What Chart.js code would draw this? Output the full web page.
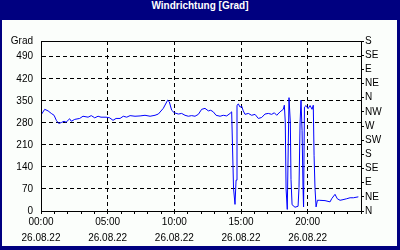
<!DOCTYPE html>
<html>
<head>
<meta charset="utf-8">
<script src="https://cdn.jsdelivr.net/npm/chart.js@4"></script>
<style>
  body { margin: 0; }
  #frame { position: relative; width: 400px; height: 250px; background: #000080; }
  #title { position: absolute; left: 0; top: 0; width: 400px; height: 20px; line-height: 19px;
           text-align: center; color: #fff; font: bold 10px "Liberation Sans", sans-serif; }
  #inner { position: absolute; left: 2px; top: 20px; width: 395px; height: 226px; background: #fbfefb; }
</style>
</head>
<body>
<div id="frame">
  <div id="title">Windrichtung [Grad]</div>
  <div id="inner"><canvas id="windChart" width="395" height="226"></canvas></div>
</div>
<script>
// time of day in hours (26.08.22) and wind direction in degrees
const hours = [
  0, 0.28, 0.53, 0.77, 0.98, 1.15, 1.33, 1.52, 1.73, 1.88, 2.15, 2.27, 2.53, 2.9, 3.15, 3.53, 3.77,
  4.03, 4.28, 4.5, 4.88, 5.15, 5.4, 5.63, 5.93, 6.17, 6.43, 6.68, 7.05, 7.43, 7.8, 8.18, 8.55, 8.8,
  9.17, 9.5, 9.62, 9.8, 10.0, 10.3, 10.55, 10.8, 11.05, 11.3, 11.55, 11.8, 12.05, 12.3, 12.55, 12.73,
  12.92, 13.13, 13.43, 13.67, 13.93, 14.18, 14.3, 14.44, 14.55, 14.63, 14.7, 14.8, 14.93, 15.05,
  15.17, 15.3, 15.55, 15.8, 16.05, 16.3, 16.55, 16.8, 17.05, 17.3, 17.5, 17.68, 17.93, 18.17, 18.25,
  18.32, 18.38, 18.47, 18.6, 18.7, 18.75, 18.83, 19.05, 19.28, 19.35, 19.43, 19.5, 19.58, 19.65,
  19.69, 19.76, 19.88, 20.03, 20.18, 20.33, 20.42, 20.48, 20.55, 20.63, 20.73, 20.87, 21.3, 21.68,
  21.8, 22.05, 22.22, 22.43, 22.65, 22.93, 23.18, 23.43, 23.8
];
const windDir = [
  305, 323, 318, 310, 304, 288, 278, 281, 285, 282, 293, 285, 291, 294, 301, 298, 303,
  296, 301, 298, 298, 296, 288, 294, 294, 301, 298, 303, 301, 302, 304, 301, 304, 308,
  326, 352, 347, 320, 312, 308, 310, 304, 301, 303, 301, 307, 323, 326, 318, 320,
  315, 304, 301, 304, 302, 310, 315, 72, 21, 98, 336, 340, 330, 333,
  318, 307, 310, 304, 307, 294, 297, 308, 310, 307, 312, 304, 315, 323, 336,
  283, 70, 5, 360, 280, 100, 20, 12, 15, 75, 280, 352, 255, 75,
  13, 330, 335, 325, 335, 323, 336, 177, 72, 13, 34, 34, 33, 29,
  39, 53, 39, 34, 36, 39, 42, 42, 45
];
const compassLabels = ['N', 'NE', 'E', 'SE', 'S', 'SW', 'W', 'NW', 'N', 'NE', 'E', 'SE', 'S'];
const dateLabel = '26.08.22';

const points = hours.map((h, i) => ({ x: h, y: windDir[i] }));
const tickFont = { family: 'Liberation Sans', size: 10 };

// solid box round the plot area
const plotBox = {
  id: 'plotBox',
  afterDatasetsDraw(chart) {
    const { ctx, chartArea: a } = chart;
    ctx.save();
    ctx.strokeStyle = '#000';
    ctx.lineWidth = 1;
    ctx.strokeRect(Math.round(a.left) + 0.5, Math.round(a.top) + 0.5,
                   Math.round(a.right - a.left), Math.round(a.bottom - a.top));
    ctx.restore();
  }
};

new Chart(document.getElementById('windChart'), {
  type: 'line',
  data: {
    datasets: [{
      data: points,
      borderColor: '#0000ff',
      borderWidth: 1,
      pointRadius: 0,
      tension: 0,
      yAxisID: 'y'
    }]
  },
  options: {
    responsive: false,
    animation: false,
    layout: { padding: { top: 21, left: 0, right: 0, bottom: 0 } },
    plugins: { legend: { display: false }, tooltip: { enabled: false } },
    scales: {
      x: {
        type: 'linear',
        min: 0,
        max: 24,
        afterFit: s => { s.height = 35; },
        ticks: {
          stepSize: 1,
          autoSkip: false,
          maxRotation: 0,
          color: '#000',
          font: { ...tickFont, lineHeight: 1.6 },
          padding: 0,
          callback: v => v % 5 === 0 ? [String(v).padStart(2, '0') + ':00', dateLabel] : ''
        },
        grid: {
          color: c => (c.tick && c.tick.value % 5 === 0 && c.tick.value > 0 && c.tick.value < 24) ? '#000' : 'transparent',
          tickColor: '#000',
          tickLength: 3
        },
        border: { color: '#000', dash: [4, 3] }
      },
      y: {
        position: 'left',
        min: 0,
        max: 540,
        afterFit: s => { s.width = 39; },
        ticks: {
          stepSize: 70,
          autoSkip: false,
          color: '#000',
          font: tickFont,
          padding: 8,
          callback: v => v === 540 ? 'Grad' : v
        },
        grid: {
          drawTicks: false,
          color: c => (c.tick && (c.tick.value === 0 || c.tick.value === 540)) ? 'transparent' : '#000'
        },
        border: { color: '#000', dash: [4, 3] }
      },
      y2: {
        position: 'right',
        min: 0,
        max: 540,
        afterFit: s => { s.width = 36; },
        ticks: {
          stepSize: 45,
          autoSkip: false,
          color: '#000',
          font: tickFont,
          padding: 1,
          callback: v => compassLabels[Math.round(v / 45)]
        },
        grid: { drawOnChartArea: false, tickColor: '#000', tickLength: 3 },
        border: { color: '#000' }
      }
    }
  },
  plugins: [plotBox]
});
</script>
</body>
</html>
